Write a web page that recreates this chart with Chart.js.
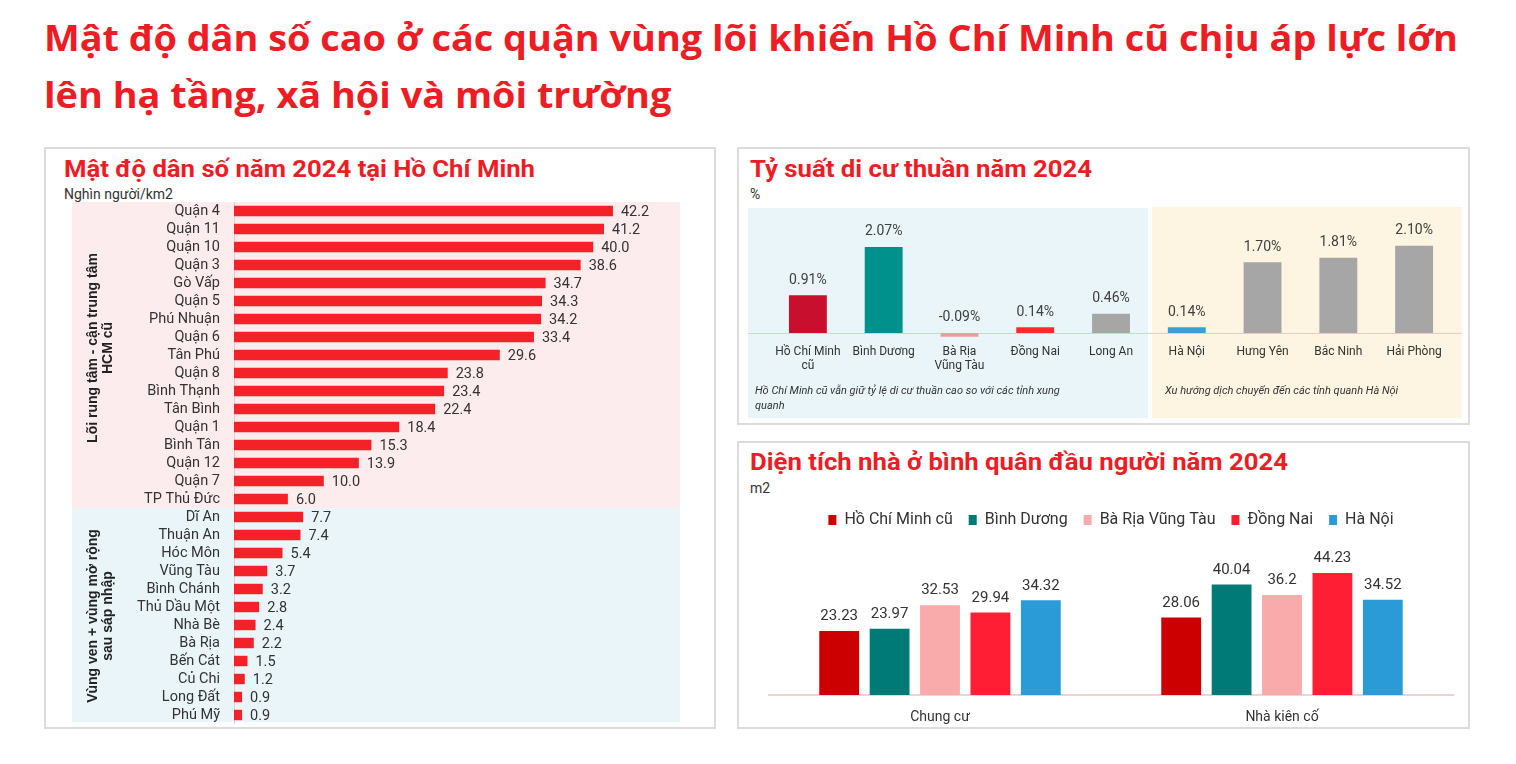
<!DOCTYPE html>
<html><head><meta charset="utf-8">
<script src="https://cdn.jsdelivr.net/npm/chart.js@4.4.1/dist/chart.umd.min.js"></script>
<style>
html,body{margin:0;padding:0}
body{width:1516px;height:764px;background:#fff;position:relative;overflow:hidden;font-family:Roboto,sans-serif}
#mainTitle{position:absolute;left:44px;top:9px;color:#ee1c24;font-family:"Open Sans",sans-serif;font-weight:700;font-size:36px;line-height:57px;white-space:nowrap}
#mainTitle div{transform-origin:left center}
.panel{position:absolute;border:2px solid #dcdcdc;box-sizing:border-box;background:#fff}
.ptitle{position:absolute;color:#ee1c24;font-weight:700;font-size:24px;line-height:28px;white-space:nowrap;transform-origin:left center}
.unit{position:absolute;font-size:14px;line-height:16px;color:#333;white-space:nowrap}
canvas{position:absolute}
</style></head>
<body>
<div id="mainTitle"><div id="t1">Mật độ dân số cao ở các quận vùng lõi khiến Hồ Chí Minh cũ chịu áp lực lớn</div><div id="t2">lên hạ tầng, xã hội và môi trường</div></div>

<div class="panel" style="left:44px;top:147px;width:672px;height:582px"></div>
<div class="panel" style="left:737px;top:147px;width:733px;height:278px"></div>
<div class="panel" style="left:737px;top:441px;width:733px;height:288px"></div>

<div class="ptitle" id="pt1" style="left:64px;top:155px">Mật độ dân số năm 2024 tại Hồ Chí Minh</div>
<div class="unit" style="left:64px;top:186px">Nghìn người/km2</div>
<div class="ptitle" id="pt2" style="left:750px;top:155px">Tỷ suất di cư thuần năm 2024</div>
<div class="unit" style="left:750px;top:186px">%</div>
<div class="ptitle" id="pt3" style="left:750px;top:448px">Diện tích nhà ở bình quân đầu người năm 2024</div>
<div class="unit" style="left:750px;top:480px">m2</div>

<canvas id="c1" width="612" height="522" style="left:72px;top:202px;width:612px;height:522px"></canvas>
<canvas id="c2" width="714" height="211" style="left:748px;top:207px;width:714px;height:211px"></canvas>
<canvas id="c3" width="714" height="228" style="left:748px;top:496px;width:714px;height:228px"></canvas>

<script>
// ---------- DATA ----------
const districts = ["Quận 4","Quận 11","Quận 10","Quận 3","Gò Vấp","Quận 5","Phú Nhuận","Quận 6","Tân Phú","Quận 8","Bình Thạnh","Tân Bình","Quận 1","Bình Tân","Quận 12","Quận 7","TP Thủ Đức","Dĩ An","Thuận An","Hóc Môn","Vũng Tàu","Bình Chánh","Thủ Dầu Một","Nhà Bè","Bà Rịa","Bến Cát","Củ Chi","Long Đất","Phú Mỹ"];
const density = [42.2,41.2,40.0,38.6,34.7,34.3,34.2,33.4,29.6,23.8,23.4,22.4,18.4,15.3,13.9,10.0,6.0,7.7,7.4,5.4,3.7,3.2,2.8,2.4,2.2,1.5,1.2,0.9,0.9];
const coreCount = 17;
const groupCore = ["Lõi rung tâm - cận trung tâm","HCM cũ"];
const groupOuter = ["Vùng ven + vùng mở rộng","sau sáp nhập"];

const migProvinces = [["Hồ Chí Minh","cũ"],"Bình Dương",["Bà Rịa","Vũng Tàu"],"Đồng Nai","Long An","Hà Nội","Hưng Yên","Bắc Ninh","Hải Phòng"];
const migRates = [0.91,2.07,-0.09,0.14,0.46,0.14,1.70,1.81,2.10];
const migNoteSouth = ["Hồ Chí Minh cũ vẫn giữ tỷ lệ di cư thuần cao so với các tỉnh xung","quanh"];
const migNoteNorth = "Xu hướng dịch chuyển đến các tỉnh quanh Hà Nội";

const housingTypes = ["Chung cư","Nhà kiên cố"];
const housingSeries = ["Hồ Chí Minh cũ","Bình Dương","Bà Rịa Vũng Tàu","Đồng Nai","Hà Nội"];
const housingHCM = [23.23, 28.06];
const housingBD = [23.97, 40.04];
const housingBRVT = [32.53, 36.2];
const housingDN = [29.94, 44.23];
const housingHN = [34.32, 34.52];

// ---------- STYLES ----------
const migColors = ["#c8102e","#00918c","#f19a9a","#ff2a2a","#a6a6a6","#3a9fd8","#a6a6a6","#a6a6a6","#a6a6a6"];
const housingColors = ["#cc0000","#007a76","#f9aaaa","#ff1e34","#2b9bd8"];

function fitWidth(el, w){ const r = el.getBoundingClientRect().width; el.style.transform = 'scaleX(' + (w / r) + ')'; return w / r; }
const s1 = fitWidth(document.getElementById('t1'), 1414);
document.getElementById('t2').style.transform = 'scaleX(' + s1 + ')';
fitWidth(document.getElementById('pt1'), 471);
fitWidth(document.getElementById('pt2'), 342);
fitWidth(document.getElementById('pt3'), 538);

Chart.defaults.font.family = 'Roboto, sans-serif';
Chart.defaults.color = '#333';
Chart.defaults.animation = false;

function noPad(s){ s.paddingTop = 0; s.paddingBottom = 0; s.paddingLeft = 0; s.paddingRight = 0; }

// ---------- CHART 1 ----------
const bandPlugin = {
  id: 'bands',
  beforeDraw(chart){
    const {ctx, chartArea} = chart;
    const y = chart.scales.y;
    const split = (y.getPixelForValue(coreCount - 1) + y.getPixelForValue(coreCount)) / 2;
    ctx.save();
    ctx.fillStyle = '#fdeced';
    ctx.fillRect(0, chartArea.top - 1, 608, split - chartArea.top + 1);
    ctx.fillStyle = '#eaf5fa';
    ctx.fillRect(0, split, 608, chartArea.bottom - 2 - split);
    ctx.restore();
  },
  afterDraw(chart){
    const {ctx} = chart;
    const y = chart.scales.y;
    const split = (y.getPixelForValue(coreCount - 1) + y.getPixelForValue(coreCount)) / 2;
    const c1 = (chart.chartArea.top + split) / 2 - 7;
    const c2 = (split + chart.chartArea.bottom) / 2;
    ctx.save();
    ctx.fillStyle = '#222';
    ctx.font = 'bold 14px "Liberation Sans", Arial, sans-serif';
    ctx.textAlign = 'center';
    ctx.textBaseline = 'middle';
    [[groupCore, c1],[groupOuter, c2]].forEach(([lines, cy])=>{
      lines.forEach((t, i)=>{
        ctx.save();
        ctx.translate(21 + i * 15, cy);
        ctx.rotate(-Math.PI / 2);
        ctx.fillText(t, 0, 0);
        ctx.restore();
      });
    });
    const meta = chart.getDatasetMeta(0);
    ctx.font = '14.5px Roboto';
    ctx.fillStyle = '#333';
    ctx.textAlign = 'left';
    meta.data.forEach((bar, i)=>{
      ctx.fillText(density[i].toFixed(1), bar.x + 8, bar.y + 1);
    });
    ctx.restore();
  }
};

new Chart(document.getElementById('c1'), {
  type: 'bar',
  data: { labels: districts, datasets: [{ data: density, backgroundColor: '#f42129', barPercentage: 0.58, categoryPercentage: 1 }] },
  options: {
    indexAxis: 'y', responsive: false, maintainAspectRatio: false,
    layout: { padding: { right: 1, top: 0, bottom: 0 } },
    plugins: { legend: { display: false }, tooltip: { enabled: false } },
    scales: {
      x: { display: false, min: 0, max: 50 },
      y: {
        afterFit(s){ s.width = 162; noPad(s); },
        grid: { display: false, drawTicks: false },
        border: { display: true, color: '#f0c8c8', width: 1 },
        ticks: { autoSkip: false, padding: 14, color: '#333', font: { size: 14.5 } }
      }
    }
  },
  plugins: [bandPlugin]
});

// ---------- CHART 2 ----------
const migPlugin = {
  id: 'mig',
  beforeDraw(chart){
    const {ctx} = chart;
    ctx.save();
    ctx.fillStyle = '#e9f5f8';
    ctx.fillRect(0, 1, 400, 210);
    ctx.fillStyle = '#fdf4e1';
    ctx.fillRect(404, 0, 310, 211);
    ctx.restore();
  },
  beforeDatasetsDraw(chart){
    const {ctx} = chart;
    const z = chart.scales.y.getPixelForValue(0);
    ctx.save();
    ctx.strokeStyle = '#f2c6c6';
    ctx.lineWidth = 1;
    ctx.beginPath(); ctx.moveTo(0, z + 0.5); ctx.lineTo(714, z + 0.5); ctx.stroke();
    ctx.restore();
  },
  afterDraw(chart){
    const {ctx} = chart;
    const z = chart.scales.y.getPixelForValue(0);
    const meta = chart.getDatasetMeta(0);
    ctx.save();
    ctx.font = '14px Roboto';
    ctx.fillStyle = '#404040';
    ctx.textAlign = 'center';
    ctx.textBaseline = 'bottom';
    meta.data.forEach((bar, i)=>{
      const top = migRates[i] >= 0 ? bar.y : z;
      ctx.fillText(migRates[i].toFixed(2) + '%', bar.x, top - 8);
    });
    ctx.font = 'italic 11px Roboto';
    ctx.fillStyle = '#333';
    ctx.textAlign = 'left';
    ctx.textBaseline = 'middle';
    migNoteSouth.forEach((t, i)=> ctx.fillText(t, 7, 184 + i * 15));
    ctx.fillText(migNoteNorth, 417, 184);
    ctx.restore();
  }
};

new Chart(document.getElementById('c2'), {
  type: 'bar',
  data: { labels: migProvinces, datasets: [{ data: migRates, backgroundColor: migColors, barPercentage: 0.5, categoryPercentage: 1 }] },
  options: {
    responsive: false, maintainAspectRatio: false,
    layout: { padding: { left: 22, right: 10, top: 22, bottom: 0 } },
    plugins: { legend: { display: false }, tooltip: { enabled: false } },
    scales: {
      y: { display: false, min: -0.2, max: 2.5 },
      x: {
        afterFit(s){ s.height = 76.7; noPad(s); },
        grid: { display: false, drawTicks: false },
        border: { display: false },
        ticks: { autoSkip: false, maxRotation: 0, padding: 3, color: '#333', font: { size: 12 } }
      }
    }
  },
  plugins: [migPlugin]
});

// ---------- CHART 3 ----------
const housingValues = [housingHCM, housingBD, housingBRVT, housingDN, housingHN];
const housePlugin = {
  id: 'house',
  afterDraw(chart){
    const {ctx} = chart;
    ctx.save();
    ctx.font = '15px Roboto';
    ctx.fillStyle = '#333';
    ctx.textAlign = 'center';
    ctx.textBaseline = 'bottom';
    chart.data.datasets.forEach((ds, di)=>{
      chart.getDatasetMeta(di).data.forEach((bar, i)=>{
        ctx.fillText(String(housingValues[di][i]), bar.x, bar.y - 7);
      });
    });
    ctx.restore();
  }
};

new Chart(document.getElementById('c3'), {
  type: 'bar',
  data: {
    labels: housingTypes,
    datasets: housingSeries.map((name, i)=>({ label: name, data: housingValues[i], backgroundColor: housingColors[i], barPercentage: 0.79, categoryPercentage: 0.737 }))
  },
  options: {
    responsive: false, maintainAspectRatio: false,
    layout: { padding: { left: 21, right: 9, top: 0, bottom: 0 } },
    plugins: {
      legend: { display: true, position: 'top', labels: { boxWidth: 8, boxHeight: 10, padding: 16, color: '#333', font: { size: 16 } } },
      tooltip: { enabled: false }
    },
    scales: {
      y: { display: false, min: 0, max: 56.9 },
      x: {
        afterFit(s){ s.height = 29; noPad(s); },
        grid: { display: false, drawTicks: false },
        border: { display: true, color: '#f0d2d2', width: 2 },
        ticks: { padding: 14, color: '#333', font: { size: 14 } }
      }
    }
  },
  plugins: [housePlugin]
});
</script>
</body></html>
